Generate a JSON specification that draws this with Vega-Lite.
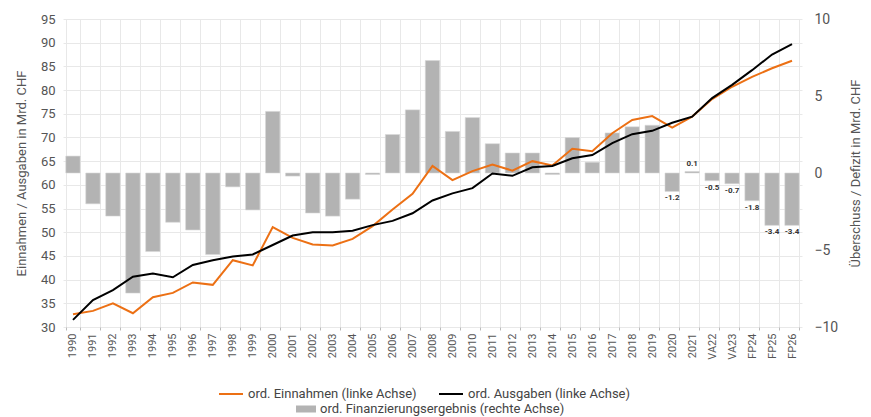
{
  "$schema": "https://vega.github.io/schema/vega-lite/v6.json",
  "width": 739,
  "height": 308,
  "autosize": {"type": "none"},
  "padding": {"left": 63, "top": 19, "right": 69, "bottom": 90},
  "config": {
    "font": "Roboto",
    "view": {"stroke": null},
    "axis": {"labelColor": "#555555", "titleColor": "#555555", "gridColor": "#e8e8e8", "domain": false, "labelFont": "Roboto", "titleFont": "Roboto", "titleFontWeight": "normal"}
  },
  "data": {
    "values": [
      {"Jahr": "1990", "Einnahmen": 32.7, "Ausgaben": 31.5, "Saldo": 1.1, "Label": null},
      {"Jahr": "1991", "Einnahmen": 33.4, "Ausgaben": 35.7, "Saldo": -2.0, "Label": null},
      {"Jahr": "1992", "Einnahmen": 35.0, "Ausgaben": 37.8, "Saldo": -2.8, "Label": null},
      {"Jahr": "1993", "Einnahmen": 32.9, "Ausgaben": 40.6, "Saldo": -7.8, "Label": null},
      {"Jahr": "1994", "Einnahmen": 36.3, "Ausgaben": 41.3, "Saldo": -5.1, "Label": null},
      {"Jahr": "1995", "Einnahmen": 37.2, "Ausgaben": 40.5, "Saldo": -3.2, "Label": null},
      {"Jahr": "1996", "Einnahmen": 39.4, "Ausgaben": 43.1, "Saldo": -3.7, "Label": null},
      {"Jahr": "1997", "Einnahmen": 38.9, "Ausgaben": 44.1, "Saldo": -5.3, "Label": null},
      {"Jahr": "1998", "Einnahmen": 44.1, "Ausgaben": 44.9, "Saldo": -0.9, "Label": null},
      {"Jahr": "1999", "Einnahmen": 43.0, "Ausgaben": 45.3, "Saldo": -2.4, "Label": null},
      {"Jahr": "2000", "Einnahmen": 51.1, "Ausgaben": 47.3, "Saldo": 4.0, "Label": null},
      {"Jahr": "2001", "Einnahmen": 48.8, "Ausgaben": 49.3, "Saldo": -0.2, "Label": null},
      {"Jahr": "2002", "Einnahmen": 47.4, "Ausgaben": 50.0, "Saldo": -2.6, "Label": null},
      {"Jahr": "2003", "Einnahmen": 47.2, "Ausgaben": 50.0, "Saldo": -2.8, "Label": null},
      {"Jahr": "2004", "Einnahmen": 48.6, "Ausgaben": 50.3, "Saldo": -1.7, "Label": null},
      {"Jahr": "2005", "Einnahmen": 51.3, "Ausgaben": 51.5, "Saldo": -0.1, "Label": null},
      {"Jahr": "2006", "Einnahmen": 54.8, "Ausgaben": 52.4, "Saldo": 2.5, "Label": null},
      {"Jahr": "2007", "Einnahmen": 58.1, "Ausgaben": 54.0, "Saldo": 4.1, "Label": null},
      {"Jahr": "2008", "Einnahmen": 64.0, "Ausgaben": 56.7, "Saldo": 7.3, "Label": null},
      {"Jahr": "2009", "Einnahmen": 61.0, "Ausgaben": 58.2, "Saldo": 2.7, "Label": null},
      {"Jahr": "2010", "Einnahmen": 62.9, "Ausgaben": 59.3, "Saldo": 3.6, "Label": null},
      {"Jahr": "2011", "Einnahmen": 64.3, "Ausgaben": 62.4, "Saldo": 1.9, "Label": null},
      {"Jahr": "2012", "Einnahmen": 63.0, "Ausgaben": 61.9, "Saldo": 1.3, "Label": null},
      {"Jahr": "2013", "Einnahmen": 65.0, "Ausgaben": 63.7, "Saldo": 1.3, "Label": null},
      {"Jahr": "2014", "Einnahmen": 64.1, "Ausgaben": 64.0, "Saldo": -0.1, "Label": null},
      {"Jahr": "2015", "Einnahmen": 67.6, "Ausgaben": 65.6, "Saldo": 2.3, "Label": null},
      {"Jahr": "2016", "Einnahmen": 67.1, "Ausgaben": 66.3, "Saldo": 0.7, "Label": null},
      {"Jahr": "2017", "Einnahmen": 70.9, "Ausgaben": 68.8, "Saldo": 2.6, "Label": null},
      {"Jahr": "2018", "Einnahmen": 73.7, "Ausgaben": 70.7, "Saldo": 3.0, "Label": null},
      {"Jahr": "2019", "Einnahmen": 74.5, "Ausgaben": 71.4, "Saldo": 3.1, "Label": null},
      {"Jahr": "2020", "Einnahmen": 72.1, "Ausgaben": 73.1, "Saldo": -1.2, "Label": "-1.2"},
      {"Jahr": "2021", "Einnahmen": 74.4, "Ausgaben": 74.4, "Saldo": 0.1, "Label": "0.1"},
      {"Jahr": "VA22", "Einnahmen": 78.1, "Ausgaben": 78.3, "Saldo": -0.5, "Label": "-0.5"},
      {"Jahr": "VA23", "Einnahmen": 80.7, "Ausgaben": 81.1, "Saldo": -0.7, "Label": "-0.7"},
      {"Jahr": "FP24", "Einnahmen": 82.8, "Ausgaben": 84.2, "Saldo": -1.8, "Label": "-1.8"},
      {"Jahr": "FP25", "Einnahmen": 84.6, "Ausgaben": 87.5, "Saldo": -3.4, "Label": "-3.4"},
      {"Jahr": "FP26", "Einnahmen": 86.2, "Ausgaben": 89.7, "Saldo": -3.4, "Label": "-3.4"}
    ]
  },
  "encoding": {
    "x": {
      "field": "Jahr",
      "type": "ordinal",
      "sort": null,
      "scale": {"paddingInner": 0.28, "paddingOuter": 0.14},
      "axis": {
        "title": null,
        "labelAngle": -90,
        "labelFontSize": 11,
        "labelPadding": 3,
        "tickBand": "extent",
        "grid": true,
        "ticks": true,
        "tickSize": 3,
        "tickColor": "#bbbbbb"
      }
    }
  },
  "layer": [
    {
      "layer": [
        {
          "mark": {"type": "bar", "stroke": "#d9d9d9", "strokeWidth": 0.6},
          "encoding": {
            "y": {"field": "Saldo", "type": "quantitative"},
            "fill": {
              "datum": "ord. Finanzierungsergebnis (rechte Achse)",
              "type": "nominal",
              "scale": {"domain": ["ord. Finanzierungsergebnis (rechte Achse)"], "range": ["#b3b3b3"]},
              "legend": {
                "title": null,
                "orient": "none",
                "legendX": 233,
                "legendY": 380,
                "symbolType": "M-1,-0.35H1V0.35H-1Z",
                "symbolSize": 400,
                "symbolStrokeWidth": 0,
                "labelFontSize": 13,
                "labelLimit": 500,
                "labelColor": "#444444",
                "labelFont": "Roboto"
              }
            }
          }
        },
        {
          "transform": [{"filter": "datum.Label != null && datum.Saldo < 0"}],
          "mark": {"type": "text", "baseline": "top", "dy": 3, "fontSize": 8, "fontWeight": "bold", "color": "#333333"},
          "encoding": {
            "y": {"field": "Saldo", "type": "quantitative"},
            "text": {"field": "Label"}
          }
        },
        {
          "transform": [{"filter": "datum.Label != null && datum.Saldo >= 0"}],
          "mark": {"type": "text", "baseline": "bottom", "dy": -3, "fontSize": 8, "fontWeight": "bold", "color": "#333333"},
          "encoding": {
            "y": {"field": "Saldo", "type": "quantitative"},
            "text": {"field": "Label"}
          }
        }
      ],
      "encoding": {
        "y": {
          "scale": {"domain": [-10, 10], "nice": false},
          "axis": {
            "orient": "right",
            "title": "Überschuss / Defizit in Mrd. CHF",
            "titleAngle": -90,
            "titleFontSize": 13,
            "titlePadding": 25,
            "values": [-10, -5, 0, 5, 10],
            "labelFontSize": 14,
            "labelPadding": 12,
            "ticks": false,
            "grid": false
          }
        }
      }
    },
    {
      "layer": [
        {
          "mark": {"type": "line", "strokeWidth": 2},
          "encoding": {
            "y": {"field": "Einnahmen", "type": "quantitative"},
            "color": {"datum": "ord. Einnahmen (linke Achse)"}
          }
        },
        {
          "mark": {"type": "line", "strokeWidth": 2},
          "encoding": {
            "y": {"field": "Ausgaben", "type": "quantitative"},
            "color": {"datum": "ord. Ausgaben (linke Achse)"}
          }
        }
      ],
      "encoding": {
        "y": {
          "scale": {"domain": [30, 95], "nice": false, "zero": false},
          "axis": {
            "orient": "left",
            "title": "Einnahmen / Ausgaben in Mrd. CHF",
            "titleFontSize": 13,
            "titlePadding": 12,
            "values": [30, 35, 40, 45, 50, 55, 60, 65, 70, 75, 80, 85, 90, 95],
            "labelFontSize": 13,
            "labelPadding": 8,
            "ticks": false,
            "grid": true
          }
        },
        "color": {
          "type": "nominal",
          "scale": {"domain": ["ord. Einnahmen (linke Achse)", "ord. Ausgaben (linke Achse)"], "range": ["#ec7014", "#000000"]},
          "legend": {
            "title": null,
            "orient": "none",
            "legendX": 155,
            "legendY": 362,
            "direction": "horizontal",
            "symbolType": "stroke",
            "symbolSize": 576,
            "symbolStrokeWidth": 2,
            "columnPadding": 18,
            "labelFontSize": 13,
            "labelLimit": 500,
            "labelColor": "#444444",
            "labelFont": "Roboto"
          }
        }
      }
    }
  ],
  "resolve": {"scale": {"y": "independent"}}
}
